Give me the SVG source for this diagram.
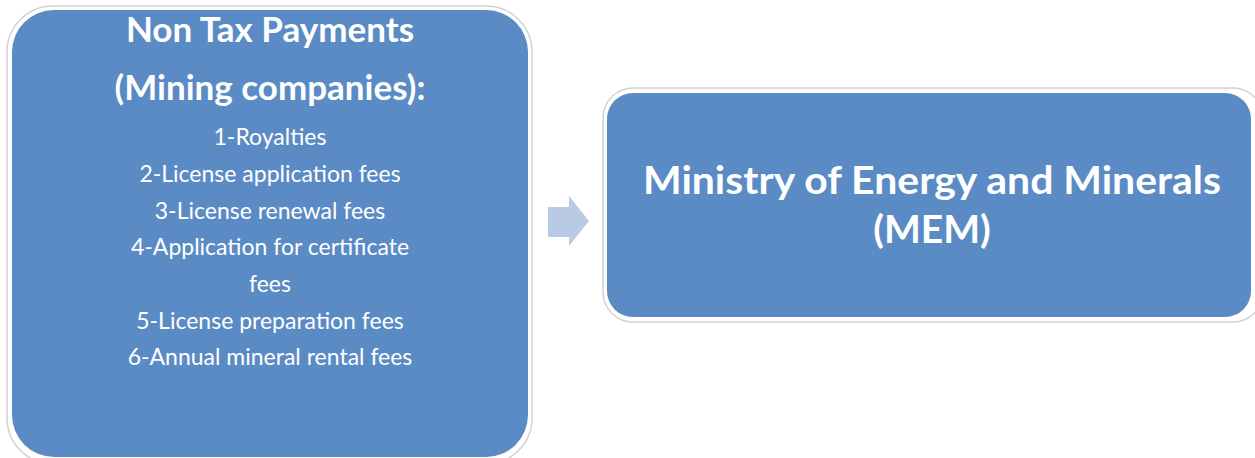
<svg xmlns="http://www.w3.org/2000/svg" width="1255" height="458" viewBox="0 0 1255 458">
<style>
.box{fill:#5b8bc4;}
.halo{fill:#ffffff;stroke:#d2d2d2;stroke-width:1.5;}
.t{font-family:Lato,"Liberation Sans",sans-serif;fill:#ffffff;text-anchor:middle;}
.h{font-weight:bold;font-size:35px;}
.i{font-size:23px;}
.m{font-weight:bold;font-size:39px;}
.arrow{fill:#b9cae4;}
</style>
<rect width="1255" height="458" fill="#ffffff"/>
<g id="node-left">
<rect class="halo" x="7" y="6" width="525" height="458" rx="46"/>
<rect class="box" x="12" y="10" width="516" height="447" rx="42"/>
<text class="t h" x="270" y="42">Non Tax Payments</text>
<text class="t h" x="270" y="100">(Mining companies):</text>
<text class="t i" x="270" y="145">1-Royalties</text>
<text class="t i" x="270" y="182">2-License application  fees</text>
<text class="t i" x="270" y="219">3-License renewal fees</text>
<text class="t i" x="270" y="255">4-Application for certificate</text>
<text class="t i" x="270" y="292">fees</text>
<text class="t i" x="270" y="329">5-License preparation fees</text>
<text class="t i" x="270" y="365">6-Annual mineral rental fees</text>
</g>
<g id="connectors">
<polygon class="arrow" points="548,207 569,207 569,196 589,221 569,246 569,237 548,237"/>
</g>
<g id="node-right">
<rect class="halo" x="603" y="88" width="660" height="234" rx="30"/>
<rect class="box" x="607" y="93" width="644" height="224" rx="26"/>
<text class="t m" x="932" y="194" textLength="578" lengthAdjust="spacingAndGlyphs">Ministry of Energy and Minerals</text>
<text class="t m" x="932" y="243">(MEM)</text>
</g>
</svg>
